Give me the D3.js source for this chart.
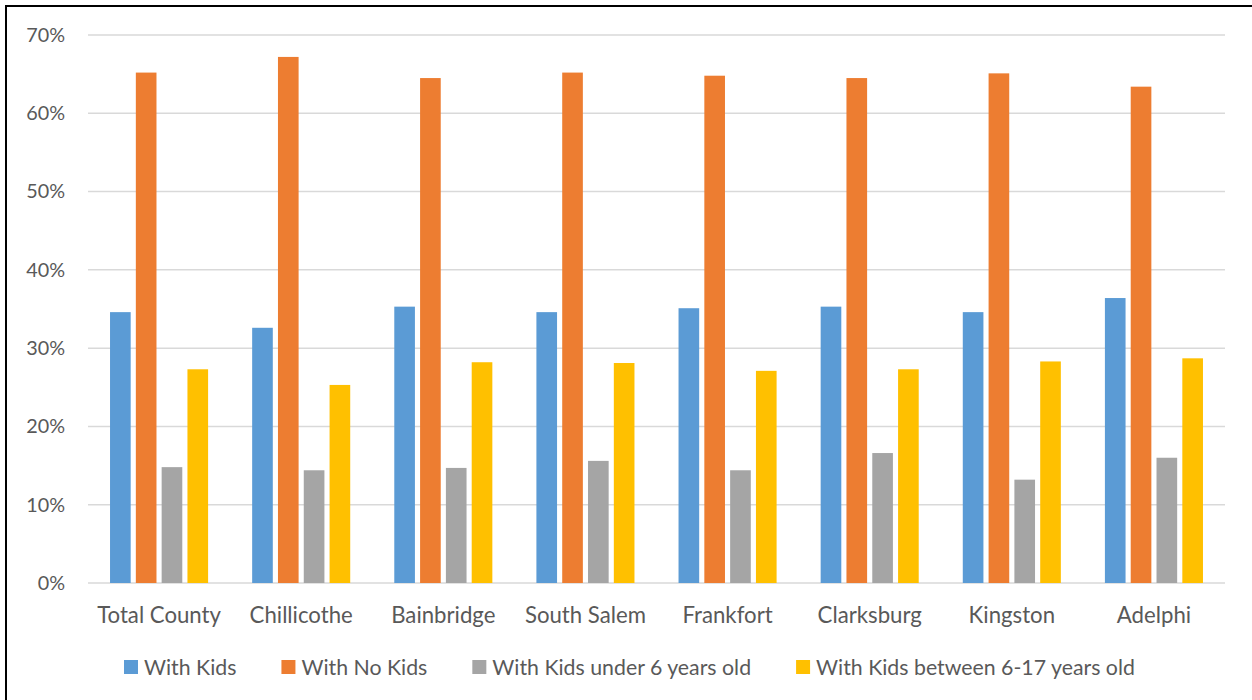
<!DOCTYPE html>
<html><head><meta charset="utf-8">
<script src="https://cdn.jsdelivr.net/npm/d3@7"></script>
<style>
html,body{margin:0;padding:0;background:#fff;}
svg{display:block;}
text{font-family:Lato, "Open Sans", sans-serif; fill:#595959;}
</style></head>
<body>
<svg id="chart" width="1252" height="700"></svg>
<script>
const categories = ["Total County","Chillicothe","Bainbridge","South Salem","Frankfort","Clarksburg","Kingston","Adelphi"];
const seriesNames = ["With Kids","With No Kids","With Kids under 6 years old","With Kids between 6-17 years old"];
const withKids      = [34.6, 32.6, 35.3, 34.6, 35.1, 35.3, 34.6, 36.4];
const withNoKids    = [65.2, 67.2, 64.5, 65.2, 64.8, 64.5, 65.1, 63.4];
const kidsUnder6    = [14.8, 14.4, 14.7, 15.6, 14.4, 16.6, 13.2, 16.0];
const kids6to17     = [27.3, 25.3, 28.2, 28.1, 27.1, 27.3, 28.3, 28.7];
const yTicks = [0,10,20,30,40,50,60,70];
const colors = ["#5B9BD5","#ED7D31","#A5A5A5","#FFC000"];

const seriesValues = [withKids, withNoKids, kidsUnder6, kids6to17];
const svg = d3.select("#chart");

const plot = {left:88, right:1225, top:35, bottom:583};
const x0 = d3.scaleBand().domain(categories).range([plot.left, plot.right]).paddingInner(0.31).paddingOuter(0.155);
const x1 = d3.scaleBand().domain(seriesNames).range([0, x0.bandwidth()]).paddingInner(0.2).paddingOuter(0);
const y = d3.scaleLinear().domain([0,70]).range([plot.bottom, plot.top]);

// gridlines
svg.append("g").selectAll("line").data(yTicks).join("line")
  .attr("x1", plot.left).attr("x2", plot.right)
  .attr("y1", d=>y(d)).attr("y2", d=>y(d))
  .attr("stroke", "#D9D9D9").attr("stroke-width", 1.5);

// y labels
const yAxis = d3.axisLeft(y).tickValues(yTicks).tickFormat(d=>d+"%").tickSize(0).tickPadding(0);
const gy = svg.append("g").attr("transform", "translate(65,0)").call(yAxis);
gy.select(".domain").remove();
gy.selectAll("text").style("font-size","19.8px").attr("fill","#595959").attr("font-family","Lato, sans-serif");

// bars
const groups = svg.append("g").selectAll("g").data(categories).join("g")
  .attr("transform", d=>`translate(${x0(d)},0)`);
groups.selectAll("rect").data((c,i)=>seriesNames.map((s,j)=>({s, j, v: seriesValues[j][i]}))).join("rect")
  .attr("x", d=>x1(d.s)).attr("width", x1.bandwidth())
  .attr("y", d=>y(d.v)).attr("height", d=>y(0)-y(d.v))
  .attr("fill", d=>colors[d.j]);

// x labels
const xAxis = d3.axisBottom(x0).tickSize(0).tickPadding(0);
const gx = svg.append("g").attr("transform", `translate(0,${plot.bottom})`).call(xAxis);
gx.select(".domain").remove();
gx.selectAll("text").attr("dy", null).attr("y", 39.5).style("font-size","22.2px").attr("fill","#595959").attr("font-family","Lato, sans-serif");

// legend
const legend = svg.append("g");
let lx = 124;
seriesNames.forEach((s,i)=>{
  legend.append("rect").attr("x", lx).attr("y", 660).attr("width", 14).attr("height", 14).attr("fill", colors[i]);
  const t = legend.append("text").attr("x", lx+20).attr("y", 675).style("font-size","21.3px").text(s);
  lx += 20 + t.node().getComputedTextLength() + 45;
});

// border
svg.append("line").attr("x1",6).attr("x2",1252).attr("y1",6).attr("y2",6).attr("stroke","#000").attr("stroke-width",2);
svg.append("line").attr("x1",6).attr("x2",6).attr("y1",5).attr("y2",700).attr("stroke","#000").attr("stroke-width",2);
</script>
</body></html>
